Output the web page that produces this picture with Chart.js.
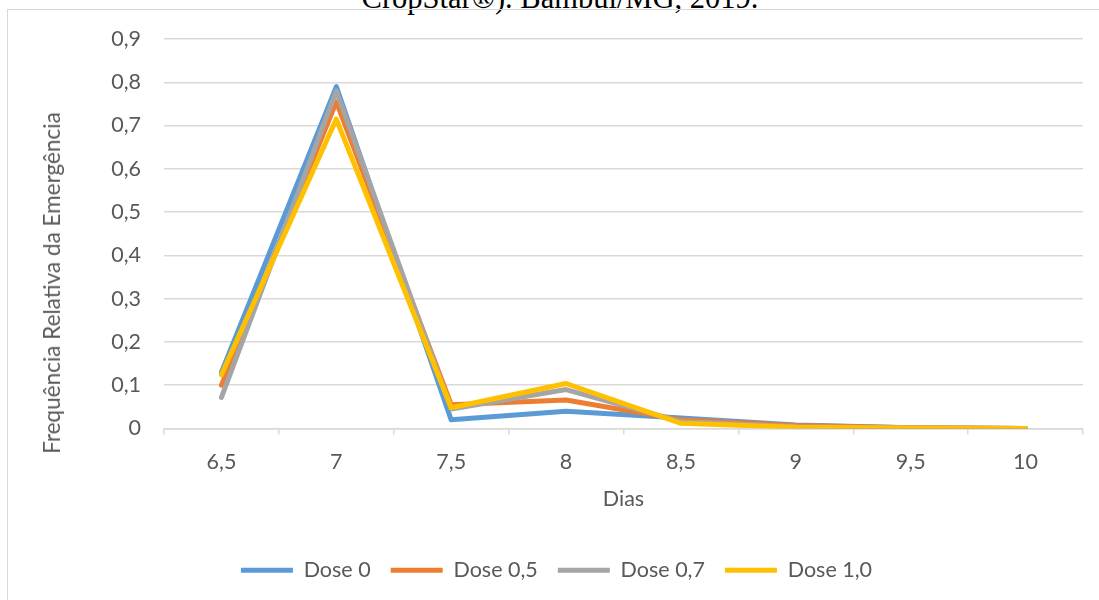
<!DOCTYPE html>
<html>
<head>
<meta charset="utf-8">
<script src="https://cdn.jsdelivr.net/npm/chart.js@4"></script>
<style>
  html, body { margin: 0; padding: 0; background: #ffffff; overflow: hidden; }
  #wrap { position: relative; width: 1099px; height: 600px; }
  #frame { position: absolute; left: 7px; top: 9px; width: 1200px; height: 700px; border-left: 1px solid #d9d9d9; border-top: 1px solid #d9d9d9; }
  #cap { position: absolute; left: 560px; top: -17px; transform: translateX(-50%); font-family: "Liberation Serif", "Times New Roman", serif; font-size: 30.5px; line-height: 30px; color: #000; white-space: nowrap; }
  #ytitle { position: absolute; left: 52px; top: 283px; transform: translate(-50%, -50%) rotate(-90deg); font-family: Lato, sans-serif; font-size: 22.5px; line-height: 26px; color: #595959; white-space: nowrap; }
  canvas { position: absolute; left: 0; top: 0; }
</style>
</head>
<body>
<div id="wrap">
  <div id="cap">CropStar®). Bambuí/MG, 2019.</div>
  <div id="frame"></div>
  <canvas id="c" width="1099" height="600"></canvas>
  <div id="ytitle">Frequência Relativa da Emergência</div>
</div>
<script>
const days = ['6,5', '7', '7,5', '8', '8,5', '9', '9,5', '10'];
const seriesNames = ['Dose 0', 'Dose 0,5', 'Dose 0,7', 'Dose 1,0'];
const dose0  = [0.130, 0.790, 0.020, 0.040, 0.024, 0.008, 0.002, 0];
const dose05 = [0.100, 0.755, 0.055, 0.066, 0.020, 0.007, 0.002, 0];
const dose07 = [0.072, 0.780, 0.045, 0.090, 0.016, 0.004, 0.001, 0];
const dose10 = [0.124, 0.715, 0.048, 0.104, 0.012, 0.003, 0.001, 0];
const colors = ['#5B9BD5', '#ED7D31', '#A5A5A5', '#FFC000'];
const values = [dose0, dose05, dose07, dose10];

const FONT = 'Lato';
const TXT = '#595959';
const FS = 21.5;

const datasets = values.map((v, i) => ({
  label: seriesNames[i],
  data: v,
  borderColor: colors[i],
  backgroundColor: colors[i],
  borderWidth: 5,
  pointRadius: 0,
  pointHoverRadius: 0,
  tension: 0,
  borderJoinStyle: 'round',
  borderCapStyle: 'round',
  fill: false,
  order: values.length - 1 - i
}));

new Chart(document.getElementById('c'), {
  type: 'line',
  data: { labels: days, datasets },
  options: {
    responsive: false,
    animation: false,
    events: [],
    layout: { padding: { left: 30, right: 16, top: 39, bottom: 9 } },
    plugins: {
      tooltip: { enabled: false },
      legend: {
        position: 'bottom',
        labels: {
          usePointStyle: true,
          pointStyle: 'line',
          pointStyleWidth: 52,
          padding: 20,
          color: TXT,
          font: { family: FONT, size: FS },
          sort: (a, b) => a.datasetIndex - b.datasetIndex
        }
      }
    },
    scales: {
      x: {
        offset: true,
        afterFit: (s) => { s.height = 111; },
        grid: { offset: true, drawOnChartArea: false, drawTicks: true, tickLength: 6, color: '#d9d9d9', lineWidth: 1.5 },
        border: { display: true, color: '#d9d9d9', width: 1.5 },
        ticks: { color: TXT, font: { family: FONT, size: FS }, padding: 15, maxRotation: 0 },
        title: { display: true, text: 'Dias', color: TXT, font: { family: FONT, size: FS }, padding: { top: 0, bottom: 28 } }
      },
      y: {
        min: 0,
        max: 0.9,
        afterFit: (s) => { s.width = 134; },
        grid: { color: '#d9d9d9', lineWidth: 1.5, drawTicks: false },
        border: { display: false },
        ticks: {
          stepSize: 0.1,
          padding: 23,
          color: TXT,
          font: { family: FONT, size: FS },
          callback: (v) => (Math.round(v * 10) / 10).toString().replace('.', ',')
        },
        title: { display: false }
      }
    }
  }
});
</script>
</body>
</html>
